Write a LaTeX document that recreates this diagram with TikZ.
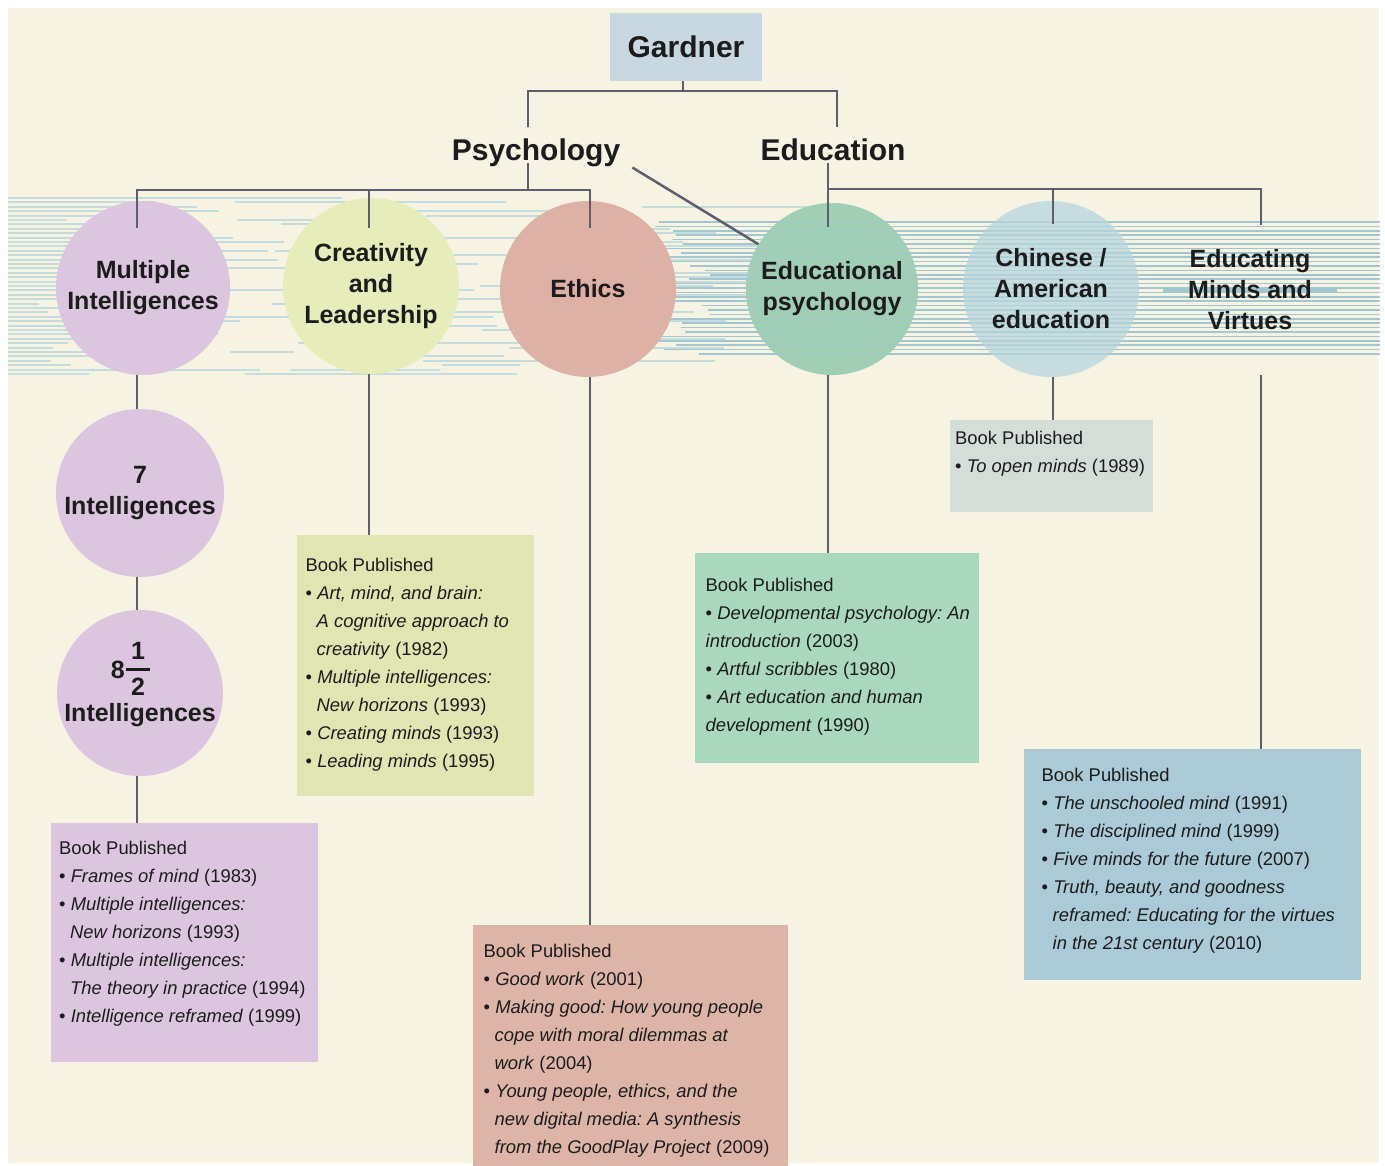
\documentclass[tikz,border=0pt]{standalone}
\usepackage{amsmath}
\usepackage{fontspec}
\setmainfont{Liberation Sans}
\usetikzlibrary{calc,positioning}

\definecolor{cream}{HTML}{F6F3E3}
\definecolor{ink}{HTML}{1C1C1C}
\definecolor{linkgrey}{HTML}{5E5E6E}
\definecolor{gardnerblue}{HTML}{C8D8E1}
\definecolor{lilac}{HTML}{DCC6DF}
\definecolor{lime}{HTML}{E6ECBA}
\definecolor{salmon}{HTML}{DDB2A4}
\definecolor{mint}{HTML}{A0CFB6}
\definecolor{paleblue}{HTML}{C6DDE0}
\definecolor{limebox}{HTML}{E0E5B2}
\definecolor{salmonbox}{HTML}{DDB5A6}
\definecolor{mintbox}{HTML}{A9D8BE}
\definecolor{greybox}{HTML}{D5DDD8}
\definecolor{bluebox}{HTML}{A9CAD6}
\definecolor{stripefaint}{HTML}{C4DCDB}
\definecolor{stripeblue}{HTML}{A3C7D2}

\frenchspacing
\newcommand{\bubblefont}{\fontsize{25}{31}\selectfont\bfseries}
\newcommand{\headfont}{\fontsize{30}{36}\selectfont\bfseries}
\newcommand{\bookfont}{\fontsize{18.4}{28}\selectfont}
\newcommand{\cont}{\hspace*{11pt}}
\newcommand{\fracdigit}[1]{\text{\hspace{5pt}#1\hspace{5pt}}}
% width, height, left pad, first baseline, lines
\newcommand{\booklist}[5]{%
  \parbox[t][#2][t]{#1}{\hspace*{#3}\begin{tabular}[t]{@{}l@{}}%
    \rule{0pt}{#4}Book Published\\#5\end{tabular}}}

\tikzset{
  link/.style={draw=linkgrey, line width=2.5pt},
  heading/.style={inner sep=0pt, font=\headfont, text=ink},
  bubble/.style={circle, fill=#1, inner sep=0pt, align=center,
    font=\bubblefont, text=ink},
  books/.style={rectangle, fill=#1, inner sep=0pt, anchor=north west,
    font=\bookfont, text=ink},
  stripe/.style={draw=stripefaint, line width=1.5pt},
  stripe dense/.style={draw=stripeblue, line width=1.6pt},
  striped/.style={path picture={
      \foreach \k in {0,...,30}
        \draw[stripe dense, opacity=#1]
          ($(path picture bounding box.center)+(-120,{4.4*\k-67})$) -- ++(240,0);}},
}

\begin{document}
\begin{tikzpicture}[x=1pt, y=-1pt]
\useasboundingbox (0,0) rectangle (1385,1166);
\fill[white] (0,0) rectangle (1385,1166);
\fill[cream] (8,8) rectangle (1379,1163);

% stripes behind the circles
\pgfmathsetseed{7}
\foreach \k in {0,...,40} {
  \pgfmathsetmacro{\sy}{round(198+4.4*\k)}
  \pgfmathsetmacro{\sl}{round(30+250*rnd)}
  \draw[stripe] (8,\sy) -- ++(\sl,0);
  \pgfmathsetmacro{\sa}{round(180+480*rnd)}
  \pgfmathsetmacro{\sl}{round(60+240*rnd)}
  \draw[stripe] (\sa,\sy) -- ++(\sl,0);
}
\foreach \k in {0,...,30} {
  \pgfmathsetmacro{\sy}{222+4.4*\k}
  \pgfmathsetmacro{\sa}{630+90*rnd}
  \draw[stripe dense] (\sa,\sy) -- (1380,\sy);
}
\draw[stripe dense, line width=5pt] (1163,290) -- (1337,290);

% top of the tree
\node[fill=gardnerblue, minimum width=152pt, minimum height=68pt,
  font=\headfont, text=ink] (gardner) at (686,47) {Gardner};
\node[heading, anchor=base] (psych) at (536,161) {Psychology};
\node[heading, anchor=base] (edu) at (833,161) {Education};

% circles
\node[bubble=lilac, minimum size=174pt] (mi) at (143,288) {Multiple\\Intelligences};
\node[bubble=lime, minimum size=176pt] (cre) at (371,286) {Creativity\\and\\Leadership};
\node[bubble=salmon, minimum size=176pt] (eth) at (588,289) {Ethics};
\node[bubble=mint, striped=0.3, minimum size=172pt] (edpsy) at (832,289) {Educational\\psychology};
\node[bubble=paleblue, striped=0.55, minimum size=176pt] (chin) at (1051,289) {Chinese /\\American\\education};
\node[inner sep=0pt, align=center, font=\bubblefont, text=ink,
  minimum height=170pt] (virt) at (1250,290) {Educating\\Minds and\\Virtues};
\node[bubble=lilac, minimum size=168pt] (seven) at (140,493) {7\\Intelligences};
\node[bubble=lilac, minimum size=166pt, inner sep=-14pt] (eight) at (140,693)
  {\hspace*{-18pt}8\raisebox{3pt}{$\genfrac{}{}{2.5pt}{0}{\fracdigit{1}}{\fracdigit{2}}$}\\[6pt]%
   Intelligences\rule[-23pt]{0pt}{0pt}};

% book lists
\node[books=lilac] (miBooks) at (51,823) {\booklist{267pt}{239pt}{8pt}{31pt}{%
  • \textit{Frames of mind} (1983)\\
  • \textit{Multiple intelligences:}\\
  \cont\textit{New horizons} (1993)\\
  • \textit{Multiple intelligences:}\\
  \cont\textit{The theory in practice} (1994)\\
  • \textit{Intelligence reframed} (1999)}};
\node[books=limebox] (creBooks) at (297,535) {\booklist{237pt}{261pt}{8.5pt}{36pt}{%
  • \textit{Art, mind, and brain:}\\
  \cont\textit{A cognitive approach to}\\
  \cont\textit{creativity} (1982)\\
  • \textit{Multiple intelligences:}\\
  \cont\textit{New horizons} (1993)\\
  • \textit{Creating minds} (1993)\\
  • \textit{Leading minds} (1995)}};
\node[books=salmonbox] (ethBooks) at (473,925) {\booklist{315pt}{241pt}{10.5pt}{32pt}{%
  • \textit{Good work} (2001)\\
  • \textit{Making good: How young people}\\
  \cont\textit{cope with moral dilemmas at}\\
  \cont\textit{work} (2004)\\
  • \textit{Young people, ethics, and the}\\
  \cont\textit{new digital media: A synthesis}\\
  \cont\textit{from the GoodPlay Project} (2009)}};
\node[books=mintbox] (edBooks) at (695,553) {\booklist{284pt}{210pt}{10.5pt}{38pt}{%
  • \textit{Developmental psychology: An}\\
  \textit{introduction} (2003)\\
  • \textit{Artful scribbles} (1980)\\
  • \textit{Art education and human}\\
  \textit{development} (1990)}};
\node[books=greybox] (chinBooks) at (950,420) {\booklist{203pt}{92pt}{5pt}{24pt}{%
  • \textit{To open minds} (1989)}};
\node[books=bluebox] (virtBooks) at (1024,749) {\booklist{337pt}{231pt}{17.5pt}{32pt}{%
  • \textit{The unschooled mind} (1991)\\
  • \textit{The disciplined mind} (1999)\\
  • \textit{Five minds for the future} (2007)\\
  • \textit{Truth, beauty, and goodness}\\
  \cont\textit{reframed: Educating for the virtues}\\
  \cont\textit{in the 21st century} (2010)}};

% links
\draw[link] ([xshift=-3pt]gardner.south) -- ++(0,10) coordinate (gbar);
\draw[link] ([xshift=-8pt,yshift=12pt]psych.north) |- (gbar)
  -| ([xshift=4pt,yshift=12pt]edu.north);
\draw[link] ([xshift=-8pt,yshift=-2pt]psych.base) -- ++(0,27) coordinate (pbar);
\draw[link] ([xshift=-6pt,yshift=-27pt]mi.north) |- (pbar)
  -| ([xshift=2pt,yshift=-27pt]eth.north);
\draw[link] ([xshift=-2pt,yshift=-30pt]cre.north) |- (pbar);
\draw[link] ([xshift=12pt]psych.south east) -- (edpsy);
\draw[link] ([xshift=-5pt,yshift=-2pt]edu.base) -- ++(0,26) coordinate (ebar)
  -- ([xshift=-4pt,yshift=-24pt]edpsy.north);
\draw[link] (ebar) -| ([xshift=2pt,yshift=-23pt]chin.north);
\draw[link] (ebar) -| ([xshift=11pt,yshift=-20pt]virt.north);

\draw[link] ([xshift=-6pt]mi.south) -- ([xshift=-3pt]seven.north);
\draw[link] ([xshift=-3pt]seven.south) -- ([xshift=-3pt]eight.north);
\draw[link] ([xshift=-3pt]eight.south) -- ([xshift=-3pt]eight.south |- miBooks.north);
\draw[link] ([xshift=-2pt]cre.south) -- ([xshift=-2pt]cre.south |- creBooks.north);
\draw[link] ([xshift=2pt]eth.south) -- ([xshift=2pt]eth.south |- ethBooks.north);
\draw[link] ([xshift=-4pt]edpsy.south) -- ([xshift=-4pt]edpsy.south |- edBooks.north);
\draw[link] ([xshift=2pt]chin.south) -- ([xshift=2pt]chin.south |- chinBooks.north);
\draw[link] ([xshift=11pt]virt.south) -- ([xshift=11pt]virt.south |- virtBooks.north);
\end{tikzpicture}
\end{document}
